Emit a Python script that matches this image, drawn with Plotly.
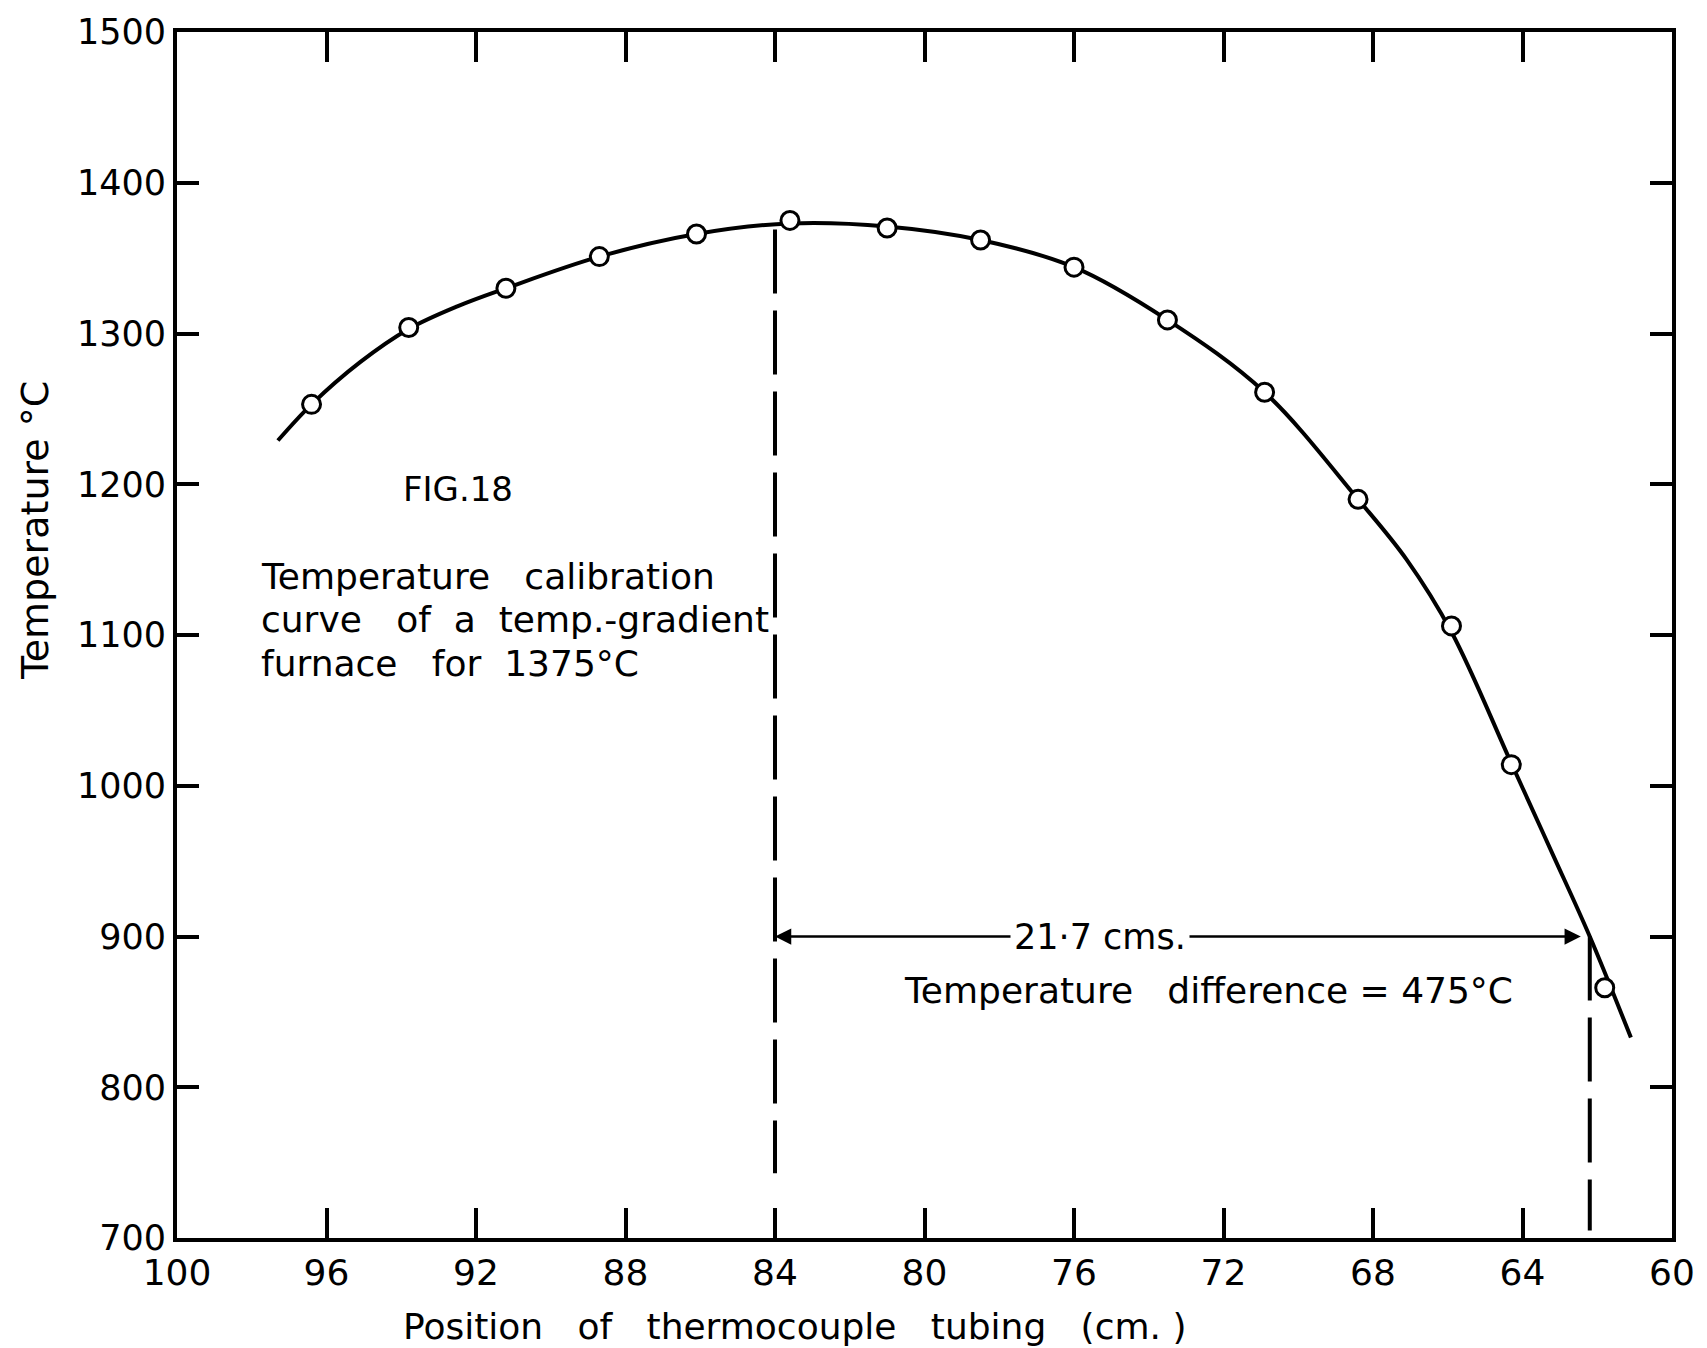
import plotly.graph_objects as go

# Measured calibration points (position cm, temperature °C)
pos_cm = [96.4, 93.8, 91.2, 88.7, 86.1, 83.6, 81.0, 78.5, 76.0, 73.5, 70.9, 68.4, 65.9, 64.3, 61.8]
temp_c = [1253, 1304, 1330, 1351, 1366, 1375, 1370, 1362, 1344, 1309, 1261, 1190, 1106, 1014, 866]

# Hand-drawn smooth calibration curve
curve_x = [97.3, 96.4, 95.1, 93.8, 92.5, 91.2, 88.7, 86.1, 83.6, 81.0, 78.5, 76.0, 73.5, 70.9,
           68.4, 67.1, 65.9, 64.3, 63.2, 62.2, 61.1]
curve_y = [1229, 1253, 1281, 1303, 1318, 1330, 1351, 1366, 1373, 1371, 1362, 1344, 1309, 1261,
           1190, 1150, 1102, 1015, 955, 900, 833]

# Dashed reference lines
ref1_x = [84.0, 84.0]
ref1_y = [1369, 743]
ref2_x = [62.2, 62.2]
ref2_y = [900, 705]

x_ticks = [100, 96, 92, 88, 84, 80, 76, 72, 68, 64, 60]
y_ticks = [700, 800, 900, 1000, 1100, 1200, 1300, 1400, 1500]

FONT = "DejaVu Sans"
BLK = "black"

fig = go.Figure()
fig.add_trace(go.Scatter(x=curve_x, y=curve_y, mode="lines",
                         line=dict(color=BLK, width=4, shape="spline", smoothing=1.0),
                         showlegend=False, hoverinfo="skip"))
fig.add_trace(go.Scatter(x=ref1_x, y=ref1_y, mode="lines",
                         line=dict(color=BLK, width=4, dash="64px,17px"),
                         showlegend=False, hoverinfo="skip"))
fig.add_trace(go.Scatter(x=ref2_x, y=ref2_y, mode="lines",
                         line=dict(color=BLK, width=4, dash="64px,17px"),
                         showlegend=False, hoverinfo="skip"))
fig.add_trace(go.Scatter(x=pos_cm, y=temp_c, mode="markers",
                         marker=dict(symbol="circle", size=18, color="white",
                                     line=dict(color=BLK, width=3)),
                         showlegend=False))

def txt(x, y, s, size, anchor="center", **kw):
    d = dict(x=x, y=y, xref="x", yref="y", text=s, showarrow=False, xanchor=anchor,
             yanchor="middle", font=dict(family=FONT, size=size, color=BLK))
    d.update(kw)
    return d

ann = []
# double-headed arrow at 900 °C
ann.append(dict(x=84.0, y=900, ax=62.4, ay=900, xref="x", yref="y", axref="x", ayref="y",
                text="", showarrow=True, arrowhead=2, startarrowhead=2, arrowside="end+start",
                arrowwidth=2.5, arrowsize=1.3, startarrowsize=1.3, arrowcolor=BLK))
ann.append(txt(75.3, 900, "21·7 cms.", 35, bgcolor="white", borderpad=3))
ann.append(txt(72.4, 864, "Temperature   difference = 475°C", 36))
ann.append(txt(94.0, 1197, "FIG.18", 34, anchor="left"))
ann.append(txt(97.8, 1139, "Temperature   calibration", 36, anchor="left"))
ann.append(txt(97.8, 1110, "curve   of  a  temp.-gradient", 36, anchor="left"))
ann.append(txt(97.8, 1081, "furnace   for  1375°C", 36, anchor="left"))
# axis titles
ann.append(dict(x=0.413, y=-0.073, xref="paper", yref="paper", showarrow=False,
                xanchor="center", yanchor="middle",
                text="Position   of   thermocouple   tubing   (cm. )",
                font=dict(family=FONT, size=36, color=BLK)))
ann.append(dict(x=-0.095, y=0.587, xref="paper", yref="paper", showarrow=False,
                xanchor="center", yanchor="middle", textangle=-90,
                text="Temperature °C",
                font=dict(family=FONT, size=38, color=BLK)))

fig.update_layout(
    width=1707, height=1348,
    margin=dict(l=177, r=34, t=29, b=110),
    paper_bgcolor="white", plot_bgcolor="white",
    font=dict(family=FONT, size=36, color=BLK),
    annotations=ann,
)
fig.update_xaxes(range=[100, 60], tickvals=x_ticks, ticktext=[str(v) for v in x_ticks],
                 ticks="inside", ticklen=30, tickwidth=4, tickcolor=BLK,
                 showline=True, linewidth=4, linecolor=BLK, mirror="ticks",
                 showgrid=False, zeroline=False,
                 tickfont=dict(family=FONT, size=36, color=BLK))
fig.update_yaxes(range=[700, 1500], tickvals=y_ticks, ticktext=[str(v) for v in y_ticks],
                 ticks="inside", ticklen=22, tickwidth=4, tickcolor=BLK,
                 showline=True, linewidth=4, linecolor=BLK, mirror="ticks",
                 showgrid=False, zeroline=False,
                 tickfont=dict(family=FONT, size=35, color=BLK))

fig.write_html("out.html")
